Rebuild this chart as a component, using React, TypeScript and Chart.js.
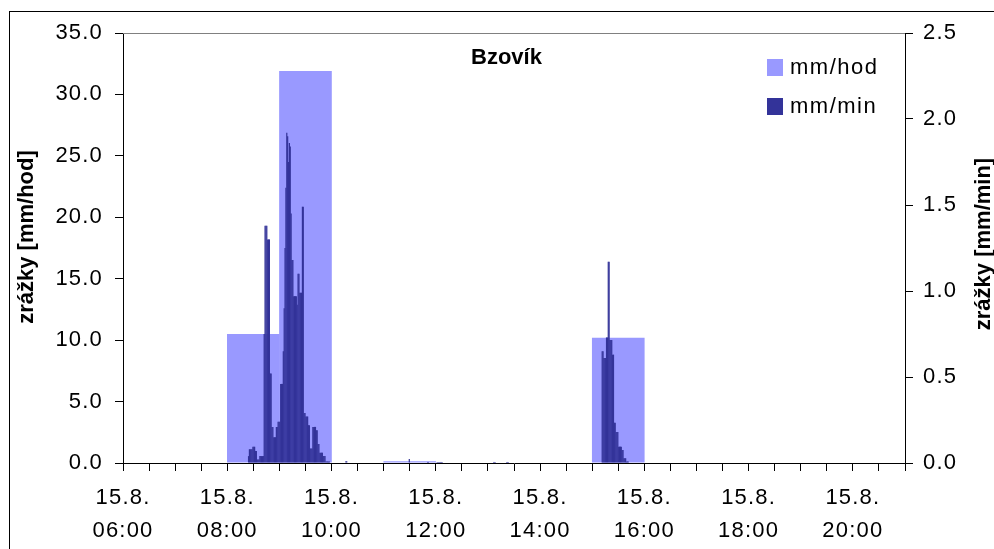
import React, { useEffect, useRef } from "react";
import { Chart, registerables } from "chart.js";

Chart.register(...registerables);

// ---- data ----
const dateLabel = "15.8.";
const axisStart = "06:00";
const axisEnd = "21:00";
const tickEveryMin = 30;
const labelEveryMin = 120;

// hourly rainfall (mm/hod), bar spans the hour starting at the label
const hourStarts = ["08:00", "09:00", "11:00", "15:00"];
const hourValues = [10.5, 31.9, 0.15, 10.2];

// minute rainfall (mm/min), consecutive minutes from the start time
const morningStart = "08:24";
const morningValues = [
  0.04,
  0.08, 0.08, 0.08, 0.08,
  0.095, 0.095, 0.095,
  0.07, 0.07,
  0.02, 0.02, 0.02,
  0.04, 0.04, 0.04, 0.04, 0.04,
  0.75,
  1.38, 1.38, 1.38,
  1.3, 1.3, 1.3,
  0.52, 0.52,
  0.21, 0.21,
  0.15, 0.15, 0.15,
  0.21, 0.21,
  0.24, 0.24, 0.24,
  0.46, 0.46, 0.46,
  0.65,
  0.9, 1.25, 1.6, 1.92, 1.9, 1.75, 1.86, 1.84, 1.45,
  1.18, 1.18,
  0.97, 0.97, 0.97, 0.97,
  0.92,
  1.1, 1.1,
  0.99, 0.99, 0.99,
  1.49, 1.49,
  0.29, 0.29,
  0.27, 0.27, 0.27,
  0.22, 0.22,
  0.085, 0.085, 0.085,
  0.21, 0.21, 0.21, 0.21,
  0.19, 0.19,
  0.11, 0.11,
  0.06, 0.06, 0.06, 0.06,
  0.04, 0.04, 0.04,
  0.008, 0.008, 0.008, 0.008, 0.008,
];

const afternoonStart = "15:11";
const afternoonValues = [
  0.65, 0.65,
  0.61, 0.61, 0.61,
  0.73, 0.73,
  1.17, 1.17,
  0.715, 0.715, 0.715,
  0.63, 0.63,
  0.234, 0.234,
  0.18, 0.18, 0.18,
  0.095, 0.095, 0.095, 0.095,
  0.076, 0.076,
  0.027, 0.027, 0.027,
  0.008, 0.008, 0.008,
];

const sparseTimes = [
  "10:16", "10:17", "11:29", "11:50", "11:51",
  "12:01", "12:02", "12:03", "12:04", "12:05", "12:06", "12:07",
  "13:06", "13:07", "13:08", "13:21", "13:22", "13:23",
];
const sparseValues = [
  0.01, 0.01, 0.023, 0.006, 0.006,
  0.006, 0.006, 0.006, 0.006, 0.006, 0.006, 0.006,
  0.006, 0.006, 0.006, 0.006, 0.006, 0.006,
];

const leftMax = 35;
const leftStep = 5;
const rightMax = 2.5;
const rightStep = 0.5;

const titleText = "Bzovík";
const leftTitle = "zrážky [mm/hod]";
const rightTitle = "zrážky [mm/min]";
const seriesHourName = "mm/hod";
const seriesMinName = "mm/min";

const colorHour = "#9999ff";
const colorMin = "#333399";
const FONT = "'Liberation Sans', Arial, Helvetica, sans-serif";

// ---- helpers ----
const toMin = (s: string) => {
  const [h, m] = s.split(":").map(Number);
  const [h0, m0] = axisStart.split(":").map(Number);
  return (h - h0) * 60 + (m - m0);
};
const fmtTime = (min: number) => {
  const [h0, m0] = axisStart.split(":").map(Number);
  const t = h0 * 60 + m0 + min;
  const h = Math.floor(t / 60);
  const m = t % 60;
  return String(h).padStart(2, "0") + ":" + String(m).padStart(2, "0");
};

function buildMinuteData() {
  const pts: { x: number; y: number }[] = [];
  const m0 = toMin(morningStart);
  morningValues.forEach((v, i) => pts.push({ x: m0 + i + 0.5, y: v }));
  const a0 = toMin(afternoonStart);
  afternoonValues.forEach((v, i) => pts.push({ x: a0 + i + 0.5, y: v }));
  sparseTimes.forEach((t, i) => pts.push({ x: toMin(t) + 0.5, y: sparseValues[i] }));
  pts.sort((a, b) => a.x - b.x);
  return pts;
}

const spacingPlugin = {
  id: "spacing",
  beforeDraw(chart: any) {
    try {
      (chart.ctx as any).letterSpacing = "1.2px";
    } catch (e) {}
  },
};

const decorPlugin = {
  id: "decor",
  afterDraw(chart: any) {
    const { ctx, chartArea: ca } = chart;
    ctx.save();
    try {
      (ctx as any).letterSpacing = "0px";
    } catch (e) {}
    // outer chart border
    ctx.strokeStyle = "#000";
    ctx.lineWidth = 1;
    ctx.strokeRect(9.5, 11.5, 3000, 3000);
    // plot area top border
    ctx.strokeStyle = "#808080";
    ctx.beginPath();
    ctx.moveTo(ca.left, Math.round(ca.top) + 0.5);
    ctx.lineTo(ca.right, Math.round(ca.top) + 0.5);
    ctx.stroke();

    ctx.fillStyle = "#000";
    // title
    ctx.font = `bold 22px ${FONT}`;
    ctx.textAlign = "center";
    ctx.textBaseline = "alphabetic";
    ctx.fillText(titleText, 506.5, 64);

    // axis titles
    ctx.textBaseline = "middle";
    ctx.save();
    ctx.translate(27, 237);
    ctx.rotate(-Math.PI / 2);
    ctx.fillText(leftTitle, 0, 0);
    ctx.restore();
    ctx.save();
    ctx.translate(984, 244);
    ctx.rotate(-Math.PI / 2);
    ctx.fillText(rightTitle, 0, 0);
    ctx.restore();

    // legend
    ctx.fillStyle = colorHour;
    ctx.fillRect(767, 59, 16, 17);
    ctx.fillStyle = colorMin;
    ctx.fillRect(767, 98, 16, 17);
    ctx.fillStyle = "#000";
    ctx.font = `22px ${FONT}`;
    ctx.textAlign = "left";
    ctx.textBaseline = "alphabetic";
    try {
      (ctx as any).letterSpacing = "1.5px";
    } catch (e) {}
    ctx.fillText(seriesHourName, 790, 74);
    ctx.fillText(seriesMinName, 790, 113);
    ctx.restore();
  },
};

export default function App() {
  const ref = useRef<HTMLCanvasElement | null>(null);
  useEffect(() => {
    if (!ref.current) return;
    const xMax = toMin(axisEnd);
    const hourData = hourStarts.map((h, i) => ({ x: toMin(h) + 30, y: hourValues[i] }));
    const tickFont = { family: FONT, size: 22 };
    const chart = new Chart(ref.current, {
      type: "bar",
      data: {
        datasets: [
          {
            label: seriesMinName,
            data: buildMinuteData() as any,
            xAxisID: "x",
            yAxisID: "y2",
            backgroundColor: colorMin,
            borderWidth: 0,
            grouped: false,
            barPercentage: 1.4,
            categoryPercentage: 1,
            order: 0,
          },
          {
            label: seriesHourName,
            data: hourData as any,
            xAxisID: "xh",
            yAxisID: "y",
            backgroundColor: colorHour,
            borderWidth: 0,
            grouped: false,
            barPercentage: 1.01,
            categoryPercentage: 1,
            order: 1,
          },
        ],
      },
      options: {
        responsive: false,
        animation: false,
        devicePixelRatio: 1,
        layout: { padding: { top: 33, left: 0, right: 0, bottom: 0 } },
        plugins: {
          legend: { display: false },
          tooltip: { enabled: false },
          title: { display: false },
        },
        scales: {
          x: {
            type: "linear",
            position: "bottom",
            min: 0,
            max: xMax,
            offset: false,
            grid: {
              offset: false,
              drawOnChartArea: false,
              drawTicks: true,
              tickLength: 8,
              color: "#000",
            },
            border: { color: "#000", width: 1 },
            ticks: {
              stepSize: tickEveryMin,
              autoSkip: false,
              maxRotation: 0,
              minRotation: 0,
              padding: 11,
              color: "#000",
              font: { ...tickFont, lineHeight: 1.486 },
              callback: (v: any) => {
                const n = Number(v);
                return n % labelEveryMin === 0 && n < xMax ? [dateLabel, fmtTime(n)] : "";
              },
            },
            afterFit: (s: any) => {
              s.height = 86;
            },
          },
          xh: {
            type: "linear",
            display: false,
            min: 0,
            max: xMax,
            offset: false,
            grid: { offset: false },
            ticks: { stepSize: 60 },
          },
          y: {
            type: "linear",
            position: "left",
            min: 0,
            max: leftMax,
            grid: { drawOnChartArea: false, drawTicks: true, tickLength: 8, color: "#000" },
            border: { color: "#000", width: 1 },
            ticks: {
              stepSize: leftStep,
              padding: 12,
              color: "#000",
              font: tickFont,
              callback: (v: any) => Number(v).toFixed(1),
            },
            afterFit: (s: any) => {
              s.width = 123;
            },
          },
          y2: {
            type: "linear",
            position: "right",
            min: 0,
            max: rightMax,
            grid: { drawOnChartArea: false, drawTicks: true, tickLength: 8, color: "#000" },
            border: { color: "#000", width: 1 },
            ticks: {
              stepSize: rightStep,
              padding: 10,
              color: "#000",
              font: tickFont,
              callback: (v: any) => Number(v).toFixed(1),
            },
            afterFit: (s: any) => {
              s.width = 89;
            },
          },
        },
      },
      plugins: [spacingPlugin, decorPlugin],
    });
    return () => chart.destroy();
  }, []);

  return (
    <div style={{ position: "fixed", left: 0, top: 0, width: 994, height: 549, background: "#fff" }}>
      <canvas ref={ref} width={994} height={549} style={{ width: 994, height: 549, display: "block" }} />
    </div>
  );
}
